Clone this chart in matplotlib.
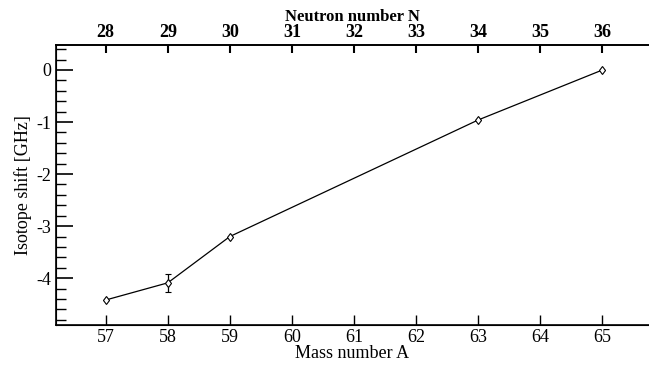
import matplotlib
matplotlib.use("Agg")
import matplotlib.pyplot as plt
from matplotlib.ticker import MultipleLocator, AutoMinorLocator

mass_number = [57, 58, 59, 63, 65]
isotope_shift = [-4.42, -4.09, -3.20, -0.96, 0.0]
shift_err = [0.0, 0.17, 0.0, 0.0, 0.0]

top_ticks_A = [57, 58, 59, 60, 61, 62, 63, 64, 65]
top_labels_N = ["28", "29", "30", "31", "32", "33", "34", "35", "36"]

plt.rcParams['font.family'] = ['Liberation Serif', 'DejaVu Serif']

fig = plt.figure(figsize=(6.49, 3.65), dpi=100)
ax = fig.add_axes([56 / 649, 1 - 325 / 365, 1 - 56 / 649, 280 / 365])

ax.errorbar(mass_number, isotope_shift, yerr=shift_err, color='black', lw=0.9,
            marker='d', markersize=4.5, markerfacecolor='white', markeredgewidth=0.8,
            capsize=2.5, elinewidth=0.9)

ax.set_xlim(56.2, 65.75)
ax.set_ylim(-4.9, 0.48)
ax.xaxis.set_major_locator(MultipleLocator(1))
ax.yaxis.set_minor_locator(AutoMinorLocator(5))
ax.set_yticks([0, -1, -2, -3, -4])
ax.set_yticklabels(["0", "-1", "-2", "-3", "-4"])

ax.spines['right'].set_visible(False)
for s in ['left', 'bottom', 'top']:
    ax.spines[s].set_linewidth(1.2)

ax.tick_params(axis='y', which='major', direction='in', length=12, width=1.2, labelsize=13)
ax.tick_params(axis='y', which='minor', direction='in', length=7, width=1.0)
ax.tick_params(axis='x', which='major', direction='in', length=7, width=1.0, labelsize=13, pad=3)
ax.set_xlabel("Mass number A", fontsize=13, labelpad=-1)
ax.set_ylabel("Isotope shift [GHz]", fontsize=13, labelpad=3)

top = ax.twiny()
top.set_xlim(ax.get_xlim())
top.set_xticks(top_ticks_A)
top.set_xticklabels(top_labels_N, fontweight='bold')
top.tick_params(axis='x', direction='in', length=6, width=1.5, labelsize=13, pad=3)
top.set_xlabel("Neutron number N", fontsize=12, fontweight='bold', labelpad=2)
top.spines['right'].set_visible(False)
top.spines['top'].set_linewidth(1.2)

fig.savefig("out.png", dpi=100)
